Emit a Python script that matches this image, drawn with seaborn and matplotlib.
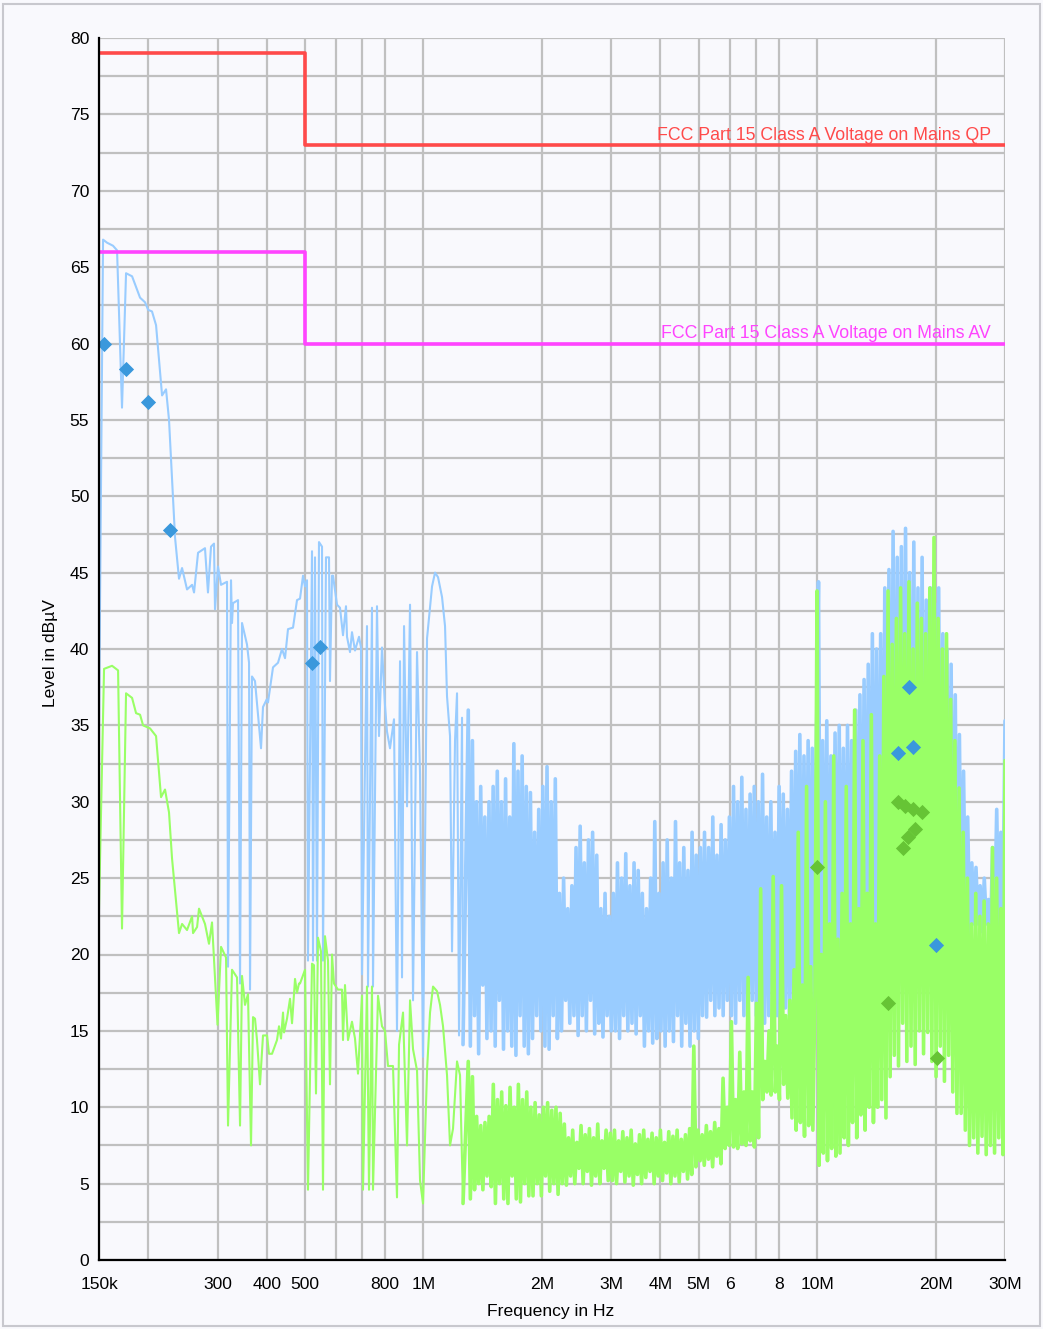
import numpy as np
import pandas as pd
import matplotlib
matplotlib.use("Agg")
import matplotlib.pyplot as plt
import seaborn as sns
from matplotlib.ticker import FixedLocator, FixedFormatter, MultipleLocator, FuncFormatter, NullLocator
from matplotlib.patches import Rectangle

# ---------------- data ----------------
limit_freq_hz = [150e3, 500e3, 500e3, 30e6]
qp_limit_db = [79, 79, 73, 73]
av_limit_db = [66, 66, 60, 60]

# peak (blue) trace, 150 kHz .. 1.26 MHz (kHz, dBuV)
peak_low_khz = [150, 153.6, 157.2, 162.8, 166.7, 171.6, 175.7, 182.0, 190.7, 196.3,
                200, 204.5, 209.4, 216.9, 222.0, 225.9, 234.0, 239.5, 243.8, 251.0,
                258.5, 261.5, 267.7, 278.8, 283.7, 288.8, 293.9, 295.6, 300.8, 306.2,
                317.1, 319.0, 324.6, 326.5, 328.4, 338.2, 342.2, 346.2, 356.4, 360.7,
                362.8, 367.0, 373.5, 386.9, 391.4, 400, 403.0, 415.0, 427.3, 437.4,
                445.2, 453.0, 466.5, 477.5, 486.0, 494.6, 500.4, 506.2, 509.2, 521.3,
                524.3, 530.5, 536.7, 543.0, 552.7, 555.9, 565.7, 575.8, 579.1, 586.0,
                589.4, 603.3, 614.0, 624.9, 635.9, 639.7, 651.0, 658.6, 670.3, 686.2,
                694.2, 698.3, 719.0, 723.2, 740.3, 744.7, 762.3, 771.3, 784.9, 798.8,
                808.2, 822.5, 842.0, 856.9, 872.2, 882.5, 892.9, 908.7, 924.8, 941.1,
                963.4, 980.5, 997.8, 1021.5, 1051.8, 1070.4, 1089.3, 1115.1, 1134.8, 1148.1,
                1168.5, 1182.2, 1203.1, 1217.3, 1231.6, 1253.4, 1260.7]
peak_low_db = [35, 66.8, 66.6, 66.4, 66.1, 55.8, 64.6, 64.4, 63.0, 62.7,
               62.2, 62.1, 61.2, 56.6, 57.0, 55.0, 47.3, 44.6, 45.3, 43.9,
               44.2, 43.7, 46.3, 46.6, 43.7, 46.7, 46.9, 42.6, 45.4, 44.2,
               44.4, 19.2, 44.5, 41.7, 43.0, 43.2, 18.1, 41.7, 40.3, 39.1,
               17.7, 38.2, 37.9, 33.5, 36.2, 36.7, 36.5, 38.8, 39.1, 40.0,
               39.4, 41.3, 41.4, 43.2, 43.3, 44.8, 44.1, 44.5, 19.6, 46.4,
               19.6, 46.0, 19.6, 47.0, 46.7, 19.6, 46.0, 46.0, 37.9, 44.8,
               44.8, 42.9, 42.7, 40.9, 42.8, 40.8, 39.8, 41.1, 39.9, 40.8,
               40.1, 18.7, 41.5, 17.9, 42.7, 17.9, 42.8, 34.3, 40.1, 36.3,
               34.6, 33.5, 35.4, 15.0, 39.2, 18.5, 41.5, 29.7, 42.9, 17.0,
               39.8, 31.8, 13.3, 40.7, 44.1, 45.0, 44.7, 43.4, 41.5, 36.9,
               34.3, 20.2, 34.0, 37.1, 14.7, 35.5, 14.1]

# average (green) trace, 150 kHz .. 1.26 MHz (kHz, dBuV)
avg_low_khz = [150, 154.5, 161.9, 167.7, 171.6, 175.7, 182.0, 186.3, 190.7, 194.1,
               202.2, 209.4, 215.6, 220.7, 225.9, 229.9, 239.5, 243.8, 251.0, 258.5,
               260.0, 266.2, 269.2, 278.8, 285.4, 290.5, 300, 306.2, 315.3, 319.0,
               326.5, 336.2, 342.2, 346.2, 352.3, 358.5, 364.9, 369.2, 373.5, 377.9,
               384.6, 391.4, 400.7, 405.4, 412.6, 424.8, 429.8, 434.9, 440.0, 442.6,
               450.4, 458.4, 463.8, 472.0, 477.5, 483.1, 486.0, 500.4, 509.2, 521.3,
               527.4, 533.6, 539.9, 549.4, 555.9, 562.4, 572.4, 579.1, 586.0, 592.8,
               606.9, 621.2, 624.9, 632.2, 643.4, 658.6, 670.3, 682.2, 698.3, 702.4,
               719.0, 727.5, 740.3, 744.7, 766.8, 784.9, 798.8, 813.0, 837.1, 856.9,
               867.2, 887.7, 908.7, 924.8, 941.1, 963.4, 980.5, 997.8, 1021.5, 1039.5,
               1057.9, 1082.9, 1102.1, 1121.6, 1148.1, 1168.5, 1189.1, 1217.3, 1238.8, 1260.7]
avg_low_db = [23.0, 38.7, 38.9, 38.6, 21.7, 37.1, 36.8, 35.8, 35.7, 35.0,
              34.8, 34.3, 30.3, 30.8, 29.3, 26.3, 21.4, 22.0, 21.6, 22.5,
              21.4, 21.8, 23.0, 22.0, 20.7, 22.1, 15.4, 20.5, 19.8, 8.8,
              19.0, 18.5, 8.8, 18.6, 16.7, 17.4, 7.5, 15.9, 15.8, 14.4,
              11.5, 14.7, 14.7, 13.5, 13.5, 14.4, 15.3, 14.5, 16.2, 14.9,
              15.8, 17.1, 15.5, 18.4, 17.5, 18.1, 18.1, 19.0, 4.6, 19.4,
              19.3, 10.9, 21.1, 20.2, 4.6, 21.2, 19.6, 11.5, 20.0, 18.1,
              17.7, 17.7, 14.4, 18.0, 14.4, 15.6, 14.5, 12.2, 17.3, 4.6,
              17.9, 4.6, 17.9, 4.6, 17.3, 15.3, 15.0, 12.7, 12.7, 4.1,
              14.1, 16.2, 7.5, 17.0, 13.8, 12.4, 5.2, 3.7, 12.4, 16.2,
              17.9, 17.6, 16.7, 15.3, 12.1, 7.5, 8.6, 13.0, 12.1, 3.7]

# dense sweep section 1.3 MHz .. 30 MHz (readings in sweep order)
dense_start_hz, dense_stop_hz = 1.3e6, 30e6
peak_dense_db = [
    36, 14, 34, 16, 30, 13.5, 31, 18, 29, 14.5, 30, 15,
    31, 14, 32, 17, 30, 13.8, 31.5, 15, 29, 14,
    33.8, 13.4, 32, 16, 33, 14, 31, 13.5,
    30.6, 14.5, 28, 16, 29.5, 15,
    31, 14, 32.3, 13.8, 30, 16, 31.5, 14.5,
    24, 15, 25, 17, 23, 15.5, 24.5, 16,
    27, 14.7, 28.4, 16, 26, 15, 27.5, 17, 28, 14.8, 26.5, 15.5,
    23, 14.6, 24, 16, 22.5, 15, 24,
    15, 26, 14.5, 25, 16, 26.6, 15, 24.5, 15.5, 26, 14.8, 25.5, 16,
    24, 14, 23, 15, 25, 14.2, 28.7, 14.5, 24, 15,
    26, 14, 27.5, 15, 25, 14.3, 28.7, 16, 26, 14, 27, 15.5, 25.5, 14, 28, 15, 26.5, 14.5, 27,
    16, 28, 15.9, 27, 17, 29, 16, 26.5, 16.5, 28.5, 16, 27.5, 17, 29, 16,
    31, 15.5, 30, 17, 31.6, 16, 29.5, 15.8, 30.5, 17, 31, 16, 30, 15.5,
    31.8, 15.5, 29, 16, 30, 17, 28, 16, 31, 15.8, 30.5, 16.5, 29.5, 16, 32,
    16, 33.3, 17, 34.4, 16, 33, 17.5, 34, 16, 33.5, 17, 34,
    44.4,
    16, 34, 17, 35.3, 16, 33, 17, 34.5, 16.5, 35, 17, 33.5, 16, 35, 17.5, 34, 16, 36, 17, 37,
    18, 38, 17, 39, 18, 41, 17.5, 40, 18, 41,
    19, 44, 18, 45.2, 19, 47.7, 18, 46, 19,
    46.7, 19, 47.9, 18, 45, 19, 47, 18, 44, 19, 46, 18, 43.2,
    19, 44, 18, 43, 19, 44, 18, 41, 19, 40,
    19, 39, 18, 37, 19, 34.4,
    20, 32, 21, 29, 21, 26, 22,
    25.7, 22, 24.5, 21.5, 25, 22, 23.6, 21,
    27, 22, 29.5, 21.5, 28, 22, 35.3]
avg_dense_db = [
    13, 4, 12,
    4.6, 9.4, 5, 8.8, 4.6, 9, 5.5, 9.4, 4.8,
    11.5, 3.7, 10.5, 5, 11, 4, 10.1, 3.7, 11.3, 5.5, 10, 4, 11.5, 3.8, 10.5, 5, 11, 4.2, 10,
    4.2, 10.3, 5, 9.5, 4.2, 10, 5.5, 10.3, 4.5, 9.8, 5, 10, 4.3, 9.6, 5,
    8.9, 4.9, 8, 5.5, 8.5, 5, 7.7, 6, 8.8, 5, 8.2, 5.8, 8.6, 4.9, 8, 5.5, 8.9, 5, 7.8, 6, 8.5, 5.2, 8.3,
    5.2, 8.5, 5, 7.8, 5.8, 8.4, 5.1, 8, 5.5, 8.5, 4.9, 7.6, 5.6, 8.2, 5, 8.5, 5.4, 7.9, 5.8, 8.3,
    5, 8, 5.5, 8.5, 5.2, 7.7, 5.7, 8.4, 5, 8.1, 5.5, 8.5, 5.1, 7.9, 5.8, 8.2, 5.3, 8.6, 5.6,
    14.0,
    6.1, 8.5, 6.5, 8.2, 6.2, 8.8, 6.6, 8.4, 6.1, 9, 6.8, 8.6, 6.3, 11.9,
    7.3, 10, 7.5, 15.6, 7.4, 10.5, 7.3, 13.6, 7.6, 11, 7.5, 18.5, 7.8, 11, 7.4, 16.8, 8,
    24.3, 10.5, 13, 11, 15, 10.8, 25.1, 11, 14, 10.5, 24.5, 11.5, 16, 10.6, 17,
    9.3, 19, 8.5, 28, 9, 18, 8.1, 31, 8.8, 19.2, 8.5, 17.5,
    43.8,
    6.2, 20, 7, 30, 6.5, 22, 7.3, 33, 6.8, 21, 7,
    24, 8, 31, 7.5, 22, 9, 36, 8, 23, 9.5, 34, 8.5, 24, 10, 35.7, 9, 22, 10, 33,
    10.5, 38.2, 9.3, 43.8, 12, 40.3, 13.4, 42, 12.7,
    44, 15.5, 41, 13, 44.4, 14, 40, 12.8, 43, 15, 42, 13.5, 41,
    14.9, 44, 13, 47.3, 12, 42, 14, 40, 11.7, 41,
    13.4, 36.7, 11, 34, 9.6, 30.9,
    9.6, 28, 8.5, 25, 7.5, 22, 8,
    24, 7, 22.5, 8.1, 23.5, 6.9, 22, 7.5,
    27, 7, 25, 8, 23, 6.9, 32.7]

# final measurement markers
qp_marker_khz = [154.5, 175.7, 200, 227.3, 521.3, 546.2, 16000, 17100, 17500, 20000]
qp_marker_db = [60.0, 58.3, 56.2, 47.8, 39.1, 40.1, 33.2, 37.5, 33.6, 20.6]
av_marker_khz = [10000, 15100, 16000, 16500, 16700, 17000, 17500, 17700, 18500, 20100]
av_marker_db = [25.7, 16.8, 30.0, 27.0, 29.7, 27.7, 29.5, 28.2, 29.3, 13.2]

x_tick_hz = [150e3, 200e3, 300e3, 400e3, 500e3, 600e3, 700e3, 800e3, 1e6, 2e6, 3e6,
             4e6, 5e6, 6e6, 7e6, 8e6, 10e6, 20e6, 30e6]
x_tick_labels = ["150k", "", "300", "400", "500", "", "", "800", "1M", "2M", "3M",
                 "4M", "5M", "6", "", "8", "10M", "20M", "30M"]

qp_label = "FCC Part 15 Class A Voltage on Mains QP"
av_label = "FCC Part 15 Class A Voltage on Mains AV"

# ---------------- build frames ----------------
def low_frame(khz, db):
    return pd.DataFrame({"f": np.array(khz) * 1e3, "L": db})

def dense_frame(khz, db, dense_db):
    # start from the last swept low-band point so the trace is continuous
    f = np.concatenate([[khz[-1] * 1e3],
                        np.geomspace(dense_start_hz, dense_stop_hz, len(dense_db))])
    return pd.DataFrame({"f": f, "L": np.concatenate([[db[-1]], dense_db])})

peak_low = low_frame(peak_low_khz, peak_low_db)
peak_dense = dense_frame(peak_low_khz, peak_low_db, peak_dense_db)
avg_low = low_frame(avg_low_khz, avg_low_db)
avg_dense = dense_frame(avg_low_khz, avg_low_db, avg_dense_db)
lim_df = pd.DataFrame({"f": limit_freq_hz, "qp": qp_limit_db, "av": av_limit_db})
qp_m = pd.DataFrame({"f": np.array(qp_marker_khz) * 1e3, "L": qp_marker_db})
av_m = pd.DataFrame({"f": np.array(av_marker_khz) * 1e3, "L": av_marker_db})

# ---------------- style ----------------
sns.set_theme(style="white")
plt.rcParams["font.family"] = ["Liberation Sans", "DejaVu Sans"]
bg = "#F9F9FD"
blue_c, green_c = "#99CCFF", "#99FF66"

fig = plt.figure(figsize=(10.43, 13.29), dpi=100, facecolor=bg)
ax = fig.add_axes([99 / 1043, 1 - 1260 / 1329, 906 / 1043, 1222 / 1329])
ax.set_facecolor(bg)
ax.set_xscale("log")

sns.lineplot(data=peak_low, x="f", y="L", ax=ax, color=blue_c, lw=1.5,
             estimator=None, sort=False, zorder=2)
sns.lineplot(data=peak_dense, x="f", y="L", ax=ax, color=blue_c, lw=2.6,
             estimator=None, sort=False, zorder=2)
sns.lineplot(data=avg_low, x="f", y="L", ax=ax, color=green_c, lw=1.5,
             estimator=None, sort=False, zorder=3)
sns.lineplot(data=avg_dense, x="f", y="L", ax=ax, color=green_c, lw=2.6,
             estimator=None, sort=False, zorder=3)
sns.lineplot(data=lim_df, x="f", y="qp", ax=ax, color="#FF4A4A", lw=2.6,
             estimator=None, sort=False, zorder=4)
sns.lineplot(data=lim_df, x="f", y="av", ax=ax, color="#FF44FF", lw=2.6,
             estimator=None, sort=False, zorder=4)
sns.scatterplot(data=qp_m, x="f", y="L", ax=ax, marker="D", s=60, color="#3A98DC",
                linewidth=0, zorder=6)
sns.scatterplot(data=av_m, x="f", y="L", ax=ax, marker="D", s=60, color="#66C435",
                linewidth=0, zorder=6)

ax.text(27.6e6, 73.3, qp_label, ha="right", va="baseline", color="#FF4A4A", fontsize=12.8, zorder=5)
ax.text(27.6e6, 60.35, av_label, ha="right", va="baseline", color="#FF44FF", fontsize=12.8, zorder=5)

ax.set_xlim(150e3, 30e6)
ax.set_ylim(0, 80)
ax.xaxis.set_major_locator(FixedLocator(x_tick_hz))
ax.xaxis.set_major_formatter(FixedFormatter(x_tick_labels))
ax.xaxis.set_minor_locator(NullLocator())
ax.yaxis.set_major_locator(MultipleLocator(2.5))
ax.yaxis.set_major_formatter(FuncFormatter(
    lambda v, p: f"{int(round(v))}" if abs(v / 5 - round(v / 5)) < 1e-6 else ""))

ax.set_axisbelow(True)
ax.grid(True, color="#C0C0C0", lw=1.6)
ax.tick_params(axis="both", direction="inout", length=8, width=1.5, color="black",
               labelsize=12.6, labelcolor="black")
ax.tick_params(axis="y", pad=3)
ax.tick_params(axis="x", pad=8)
for s in ["top", "right"]:
    ax.spines[s].set_visible(False)
for s in ["left", "bottom"]:
    ax.spines[s].set_color("black")
    ax.spines[s].set_linewidth(1.6)
    ax.spines[s].set_zorder(7)

ax.set_xlabel("Frequency in Hz", fontsize=12.6, color="black")
ax.set_ylabel("Level in dB\u00b5V", fontsize=12.6, color="black")
ax.xaxis.set_label_coords(0.499, -0.036)
ax.yaxis.set_label_coords(-0.045, 0.497)

fig.patches.append(Rectangle((0.003, 0.002), 0.994, 0.995, transform=fig.transFigure,
                             fill=False, edgecolor="#C8C8CE", lw=1.5))

fig.savefig("out.png", dpi=100, facecolor=bg)
